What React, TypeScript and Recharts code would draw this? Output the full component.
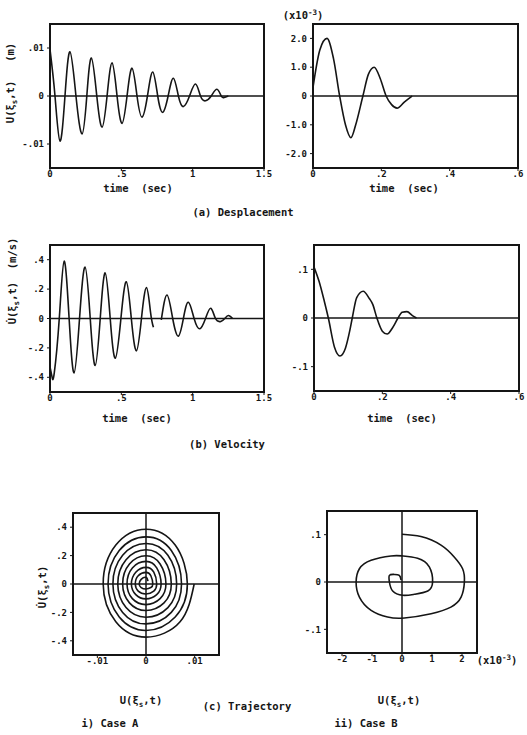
import React from "react";
import { LineChart, Line, XAxis, YAxis, ReferenceLine, ReferenceArea } from "recharts";

const INK = "#151515";
const FONT = '"DejaVu Sans Mono", "Liberation Mono", monospace';

// (a) displacement, case A  [m]
const DISP_A_T = [0, 0.035, 0.07, 0.105, 0.14, 0.182, 0.225, 0.258, 0.29, 0.328, 0.365, 0.4, 0.435, 0.47, 0.505, 0.54, 0.575, 0.61, 0.645, 0.683, 0.72, 0.755, 0.79, 0.828, 0.865, 0.9, 0.935, 0.978, 1.02, 1.055, 1.09, 1.13, 1.17, 1.2, 1.22, 1.25];
const DISP_A_U = [0.0097, 0, -0.0094, 0, 0.0092, 0, -0.0079, 0, 0.0079, 0, -0.0065, 0, 0.0069, 0, -0.0057, 0, 0.0058, 0, -0.0044, 0, 0.005, 0, -0.0034, 0, 0.0037, 0, -0.0022, 0, 0.0025, 0, -0.001, 0, 0.0014, 0, -0.0003, 0];

// (a) displacement, case B  [x10^-3 m]
const DISP_B_T = [0, 0.02, 0.041, 0.06, 0.078, 0.095, 0.111, 0.125, 0.146, 0.162, 0.179, 0.197, 0.214, 0.23, 0.246, 0.268, 0.29];
const DISP_B_U = [0.3, 1.6, 2.0, 1.3, 0, -1.0, -1.45, -1.0, 0, 0.75, 1.0, 0.6, 0, -0.3, -0.42, -0.2, 0];

// (b) velocity, case A  [m/s]  (null = gap in the trace)
const VEL_A_T = [0, 0.015, 0.03, 0.065, 0.099, 0.134, 0.169, 0.207, 0.246, 0.282, 0.317, 0.352, 0.387, 0.422, 0.458, 0.497, 0.535, 0.57, 0.606, 0.641, 0.676, 0.705, 0.725, 0.75, 0.78, 0.82, 0.86, 0.9, 0.935, 0.97, 1.01, 1.05, 1.09, 1.127, 1.16, 1.197, 1.225, 1.25, 1.28];
const VEL_A_V = [-0.33, -0.4, -0.37, 0, 0.39, 0, -0.37, 0, 0.35, 0, -0.32, 0, 0.31, 0, -0.27, 0, 0.25, 0, -0.22, 0, 0.21, 0.04, -0.06, null, -0.01, 0.16, 0, -0.12, 0, 0.11, 0, -0.07, 0, 0.07, 0, -0.02, 0, 0.02, 0];

// (b) velocity, case B  [m/s]
const VEL_B_T = [0, 0.015, 0.03, 0.042, 0.06, 0.076, 0.092, 0.105, 0.112, 0.125, 0.144, 0.162, 0.172, 0.184, 0.2, 0.214, 0.23, 0.246, 0.258, 0.272, 0.288, 0.3];
const VEL_B_V = [0.105, 0.075, 0.035, 0, -0.06, -0.078, -0.062, -0.025, 0, 0.042, 0.055, 0.04, 0.028, 0, -0.027, -0.033, -0.02, 0, 0.012, 0.013, 0.005, 0];

// (c) trajectory, case A: displacement vs velocity
const TRAJ_A_U = [
  0.0099, 0.007, 0, -0.0062, -0.0088, -0.0062, 0, 0.006,
  0.0085, 0.006, 0, -0.0055, -0.0078, -0.0055, 0, 0.0052,
  0.0073, 0.0052, 0, -0.0048, -0.0068, -0.0048, 0, 0.0045,
  0.0063, 0.0045, 0, -0.0041, -0.0058, -0.0041, 0, 0.0037,
  0.0052, 0.0037, 0, -0.0034, -0.0048, -0.0034, 0, 0.0029,
  0.0041, 0.0029, 0, -0.0028, -0.0039, -0.0028, 0, 0.0022,
  0.0031, 0.0022, 0, -0.0021, -0.003, -0.0021, 0, 0.0016,
  0.0022, 0.0016, 0, -0.0016, -0.0022, -0.0016, 0, 0.001,
  0.0014, 0.001, 0, -0.001, -0.0014, -0.001, 0, 0.0004,
];
const TRAJ_A_V = [
  0, -0.266, -0.374, -0.266, 0, 0.274, 0.386, 0.274,
  0, -0.232, -0.327, -0.232, 0, 0.236, 0.332, 0.236,
  0, -0.2, -0.281, -0.2, 0, 0.202, 0.285, 0.202,
  0, -0.166, -0.234, -0.166, 0, 0.171, 0.241, 0.171,
  0, -0.133, -0.187, -0.133, 0, 0.141, 0.199, 0.141,
  0, -0.103, -0.145, -0.103, 0, 0.113, 0.159, 0.113,
  0, -0.075, -0.105, -0.075, 0, 0.083, 0.117, 0.083,
  0, -0.05, -0.07, -0.05, 0, 0.058, 0.082, 0.058,
  0, -0.025, -0.035, -0.025, 0, 0.033, 0.047, 0.02,
];

// (c) trajectory, case B  [x10^-3 m, m/s]
const TRAJ_B_U = [0, 0.63, 1.3, 1.74, 2.02, 2.08, 1.97, 1.63, 0.97, 0.08, -0.48, -1.03, -1.42, -1.53, -1.42, -1.03, -0.37, 0.02, 0.52, 0.91, 1.02, 0.86, 0.41, 0.02, -0.31, -0.42, -0.42, -0.26, -0.09, -0.03];
const TRAJ_B_V = [0.101, 0.096, 0.078, 0.053, 0.028, 0, -0.032, -0.053, -0.067, -0.076, -0.074, -0.06, -0.032, 0, 0.028, 0.046, 0.055, 0.055, 0.05, 0.032, 0, -0.019, -0.026, -0.028, -0.019, 0, 0.014, 0.016, 0.014, 0.004];

// axis ticks
const TIME_A_TICKS = [0, 0.5, 1, 1.5];
const TIME_A_LABELS = ["0", ".5", "1", "1.5"];
const TIME_B_TICKS = [0, 0.2, 0.4, 0.6];
const TIME_B_LABELS = ["0", ".2", ".4", ".6"];
const DISP_A_TICKS = [0.01, 0, -0.01];
const DISP_A_LABELS = [".01", "0", "-.01"];
const DISP_B_TICKS = [2, 1, 0, -1, -2];
const DISP_B_LABELS = ["2.0", "1.0", "0", "-1.0", "-2.0"];
const VEL_A_TICKS = [0.4, 0.2, 0, -0.2, -0.4];
const VEL_A_LABELS = [".4", ".2", "0", "-.2", "-.4"];
const VEL_B_TICKS = [0.1, 0, -0.1];
const VEL_B_LABELS = [".1", "0", "-.1"];
const TRAJ_B_UTICKS = [-2, -1, 0, 1, 2];
const TRAJ_B_ULABELS = ["-2", "-1", "0", "1", "2"];

const zip = (xs: number[], ys: (number | null)[]) => xs.map((x, i) => ({ x, y: ys[i] }));

type PlotProps = {
  x: number;
  y: number;
  w: number;
  h: number;
  rows: { x: number; y: number | null }[];
  xDomain: [number, number];
  yDomain: [number, number];
  xTicks: number[];
  xLabels: string[];
  yTicks: number[];
  yLabels: string[];
  curve: "monotone" | "natural";
  cross?: boolean;
};

const tickStyle = { fill: INK, fontSize: 9, fontFamily: FONT, fontWeight: 700 };

function Plot(p: PlotProps) {
  const padL = 50;
  const padT = 10;
  const padR = 20;
  const axisH = 22;
  const padB = 4;
  return (
    <div style={{ position: "absolute", left: p.x - padL, top: p.y - padT }}>
      <LineChart
        width={p.w + padL + padR}
        height={p.h + padT + axisH + padB}
        data={p.rows}
        margin={{ top: padT, right: padR, bottom: padB, left: 0 }}
      >
        <XAxis
          type="number"
          dataKey="x"
          domain={p.xDomain}
          ticks={p.xTicks}
          interval={0}
          allowDataOverflow
          height={axisH}
          axisLine={false}
          tickLine={{ stroke: INK }}
          tickSize={3}
          tickMargin={0}
          tick={tickStyle}
          tickFormatter={(v: number) => p.xLabels[p.xTicks.indexOf(v)] ?? ""}
        />
        <YAxis
          type="number"
          domain={p.yDomain}
          ticks={p.yTicks}
          interval={0}
          allowDataOverflow
          width={padL}
          axisLine={false}
          tickLine={{ stroke: INK }}
          tickSize={3}
          tickMargin={3}
          tick={tickStyle}
          tickFormatter={(v: number) => p.yLabels[p.yTicks.indexOf(v)] ?? ""}
        />
        <ReferenceArea
          x1={p.xDomain[0]}
          x2={p.xDomain[1]}
          y1={p.yDomain[0]}
          y2={p.yDomain[1]}
          fill="none"
          fillOpacity={0}
          stroke={INK}
          strokeWidth={2}
          ifOverflow="visible"
        />
        <ReferenceLine y={0} stroke={INK} strokeWidth={1.5} />
        {p.cross && <ReferenceLine x={0} stroke={INK} strokeWidth={1.5} />}
        <Line
          dataKey="y"
          type={p.curve}
          stroke={INK}
          strokeWidth={1.6}
          dot={false}
          activeDot={false}
          isAnimationActive={false}
        />
      </LineChart>
    </div>
  );
}

function Text({ x, y, children, rotate }: { x: number; y: number; children: React.ReactNode; rotate?: boolean }) {
  return (
    <div
      style={{
        position: "absolute",
        left: x,
        top: y,
        transform: `translate(-50%, -50%)${rotate ? " rotate(-90deg)" : ""}`,
        whiteSpace: "pre",
        fontFamily: FONT,
        fontWeight: 700,
        fontSize: 10.5,
        color: INK,
        lineHeight: 1,
      }}
    >
      {children}
    </div>
  );
}

const Sub = ({ c }: { c: string }) => (
  <span style={{ fontSize: 7.5, position: "relative", top: 3 }}>{c}</span>
);
const Sup = ({ c }: { c: string }) => (
  <span style={{ fontSize: 7.5, position: "relative", top: -4 }}>{c}</span>
);

const Disp = () => (
  <>
    U(ξ<Sub c="s" />,t)
  </>
);
const Vel = () => (
  <>
    U{"\u0307"}(ξ<Sub c="s" />,t)
  </>
);
const Scale = () => (
  <>
    (x10<Sup c="-3" />)
  </>
);

export default function App() {
  return (
    <div style={{ position: "absolute", left: 0, top: 0, width: 527, height: 735, background: "#fff" }}>
      {/* (a) displacement */}
      <Plot
        x={50} y={24} w={214} h={144}
        rows={zip(DISP_A_T, DISP_A_U)}
        xDomain={[0, 1.5]} yDomain={[-0.015, 0.015]}
        xTicks={TIME_A_TICKS} xLabels={TIME_A_LABELS}
        yTicks={DISP_A_TICKS} yLabels={DISP_A_LABELS}
        curve="natural"
      />
      <Plot
        x={313} y={24} w={205} h={144}
        rows={zip(DISP_B_T, DISP_B_U)}
        xDomain={[0, 0.6]} yDomain={[-2.5, 2.5]}
        xTicks={TIME_B_TICKS} xLabels={TIME_B_LABELS}
        yTicks={DISP_B_TICKS} yLabels={DISP_B_LABELS}
        curve="monotone"
      />
      <Text x={10} y={83} rotate>
        <Disp />{"   (m)"}
      </Text>
      <Text x={303} y={15}>
        <Scale />
      </Text>
      <Text x={138} y={188}>time  (sec)</Text>
      <Text x={404} y={188}>time  (sec)</Text>
      <Text x={243} y={212}>(a) Desplacement</Text>

      {/* (b) velocity */}
      <Plot
        x={50} y={245} w={214} h={147}
        rows={zip(VEL_A_T, VEL_A_V)}
        xDomain={[0, 1.5]} yDomain={[-0.5, 0.5]}
        xTicks={TIME_A_TICKS} xLabels={TIME_A_LABELS}
        yTicks={VEL_A_TICKS} yLabels={VEL_A_LABELS}
        curve="natural"
      />
      <Plot
        x={314} y={245} w={205} h={146}
        rows={zip(VEL_B_T, VEL_B_V)}
        xDomain={[0, 0.6]} yDomain={[-0.15, 0.15]}
        xTicks={TIME_B_TICKS} xLabels={TIME_B_LABELS}
        yTicks={VEL_B_TICKS} yLabels={VEL_B_LABELS}
        curve="monotone"
      />
      <Text x={12} y={281} rotate>
        <Vel />{"  (m/s)"}
      </Text>
      <Text x={137} y={418}>time  (sec)</Text>
      <Text x={402} y={418}>time  (sec)</Text>
      <Text x={227} y={444}>(b) Velocity</Text>

      {/* (c) trajectory */}
      <Plot
        x={73} y={513} w={146} h={142}
        rows={zip(TRAJ_A_U, TRAJ_A_V)}
        xDomain={[-0.015, 0.015]} yDomain={[-0.5, 0.5]}
        xTicks={DISP_A_TICKS} xLabels={DISP_A_LABELS}
        yTicks={VEL_A_TICKS} yLabels={VEL_A_LABELS}
        curve="natural"
        cross
      />
      <Plot
        x={327} y={511} w={150} h={142}
        rows={zip(TRAJ_B_U, TRAJ_B_V)}
        xDomain={[-2.5, 2.5]} yDomain={[-0.15, 0.15]}
        xTicks={TRAJ_B_UTICKS} xLabels={TRAJ_B_ULABELS}
        yTicks={VEL_B_TICKS} yLabels={VEL_B_LABELS}
        curve="natural"
        cross
      />
      <Text x={42} y={587} rotate>
        <Vel />
      </Text>
      <Text x={497} y={660}>
        <Scale />
      </Text>
      <Text x={141} y={700}>
        <Disp />
      </Text>
      <Text x={399} y={700}>
        <Disp />
      </Text>
      <Text x={247} y={706}>(c) Trajectory</Text>
      <Text x={110} y={723}>i) Case A</Text>
      <Text x={366} y={723}>ii) Case B</Text>
    </div>
  );
}
